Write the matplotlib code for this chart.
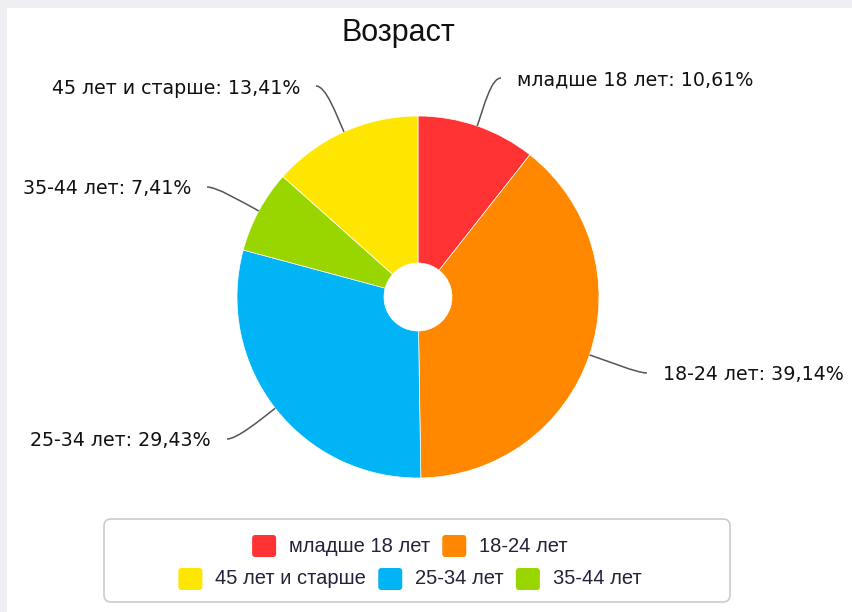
import numpy as np
import matplotlib
matplotlib.use("Agg")
import matplotlib.pyplot as plt
from matplotlib.path import Path
from matplotlib.patches import PathPatch, FancyBboxPatch, Rectangle

# chart data
categories = ["младше 18 лет", "18-24 лет", "25-34 лет", "35-44 лет", "45 лет и старше"]
shares = [10.61, 39.14, 29.43, 7.41, 13.41]
colors = ["#FF3333", "#FF8800", "#00B4F5", "#99D600", "#FFE600"]
legend_rows = [["младше 18 лет", "18-24 лет"],
               ["45 лет и старше", "25-34 лет", "35-44 лет"]]
title = "Возраст"

W, H = 852, 612
CX, CY = 418, 297      # pie centre in pixels (from top)
R, R_HOLE = 181, 34

# label layout: (edge x, centre y, ha) in pixels from top
label_pos = {
    "младше 18 лет": (517, 80, "left"),
    "18-24 лет": (663, 375, "left"),
    "25-34 лет": (211, 441, "right"),
    "35-44 лет": (191, 189, "right"),
    "45 лет и старше": (300, 88, "right"),
}


def Y(y):
    return H - y


fig = plt.figure(figsize=(W / 100, H / 100), dpi=100, facecolor="#EEEEF3")
ax = fig.add_axes([0, 0, 1, 1])
ax.patch.set_visible(False)
ax.add_patch(Rectangle((7, 0), W, H - 8, facecolor="white", edgecolor="none", zorder=-5))

wedges, _ = ax.pie(shares, colors=colors, startangle=90, counterclock=False,
                   radius=R, center=(CX, Y(CY)),
                   wedgeprops=dict(width=R - R_HOLE, edgecolor="white", linewidth=0.5))

# labels with soft connectors
for w, name, val in zip(wedges, categories, shares):
    mid = np.deg2rad((w.theta1 + w.theta2) / 2)
    ux, uy = np.cos(mid), np.sin(mid)
    ax0, ay0 = CX + R * ux, Y(CY) + R * uy
    lx, ly, ha = label_pos[name]
    side = 1 if ha == "left" else -1
    ex, ey = lx - side * 16, Y(ly - 2)
    verts = [(ax0, ay0), (ax0 + ux * 20, ay0 + uy * 20), (ex - side * 10, ey), (ex, ey)]
    path = Path(verts, [Path.MOVETO, Path.CURVE4, Path.CURVE4, Path.CURVE4])
    ax.add_patch(PathPatch(path, facecolor="none", edgecolor="#555555", lw=1.1, zorder=3))
    txt = f"{name}: {val:.2f}%".replace(".", ",")
    ax.text(lx, Y(ly), txt, ha=ha, va="center", fontsize=13.7,
            family="DejaVu Sans", color="#111111")

ax.text(398, Y(33), title, ha="center", va="center", fontsize=22,
        family="Liberation Sans", color="#111111")

# legend
ax.add_patch(FancyBboxPatch((104, Y(602)), 626, 83, boxstyle="round,pad=0,rounding_size=7",
                            facecolor="white", edgecolor="#CCCCCC", lw=1.2, zorder=2))
fig.canvas.draw()
renderer = fig.canvas.get_renderer()
color_of = dict(zip(categories, colors))
sq, gap_in, gap_out = 24, 13, 12
for row, ry in zip(legend_rows, [546, 579]):
    texts, widths = [], []
    for name in row:
        t = ax.text(0, Y(ry), name, ha="left", va="center", fontsize=14.5,
                    family="Liberation Sans", color="#22223A", zorder=4)
        bb = t.get_window_extent(renderer)
        texts.append(t)
        widths.append(bb.width)
    total = sum(sq + gap_in + wd for wd in widths) + gap_out * (len(row) - 1)
    x = 410 - total / 2
    for name, t, wd in zip(row, texts, widths):
        ax.add_patch(FancyBboxPatch((x, Y(ry) - 11), sq, 22,
                                    boxstyle="round,pad=0,rounding_size=3",
                                    facecolor=color_of[name], edgecolor="none", zorder=4))
        t.set_x(x + sq + gap_in)
        x += sq + gap_in + wd + gap_out

ax.set_xlim(0, W)
ax.set_ylim(0, H)
ax.set_aspect("auto")
ax.set_axis_off()

fig.savefig("out.png", dpi=100, facecolor=fig.get_facecolor())
